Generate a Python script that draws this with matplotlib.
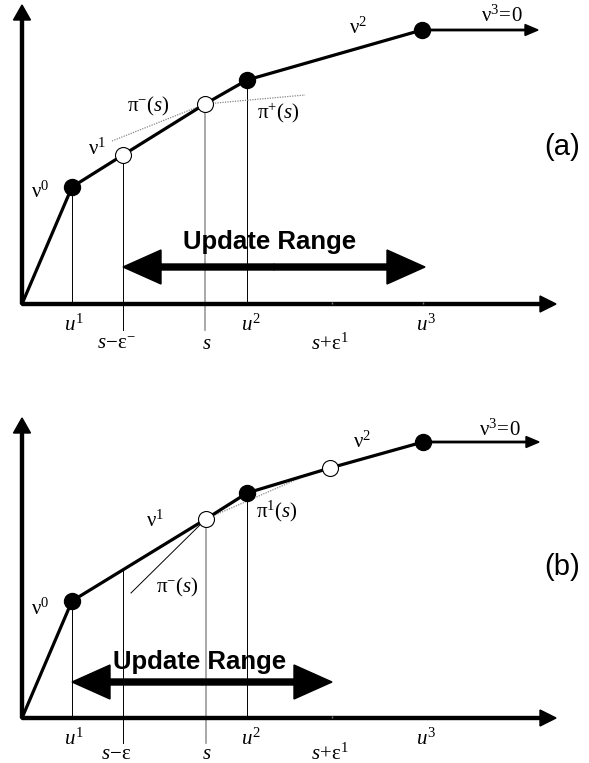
import matplotlib.pyplot as plt
import numpy as np

plt.rcParams['mathtext.fontset'] = 'custom'
plt.rcParams['mathtext.rm'] = 'Liberation Serif'
plt.rcParams['mathtext.it'] = 'Liberation Serif:italic'
plt.rcParams['mathtext.bf'] = 'Liberation Serif:bold'

# breakpoints of the piecewise linear value function (origin first)
top_x = [0, 50, 101, 183, 225, 400]
top_y = [0, 117, 149, 200, 224, 274]
top_filled = [1, 4, 5]
top_open = [2, 3]

bot_x = [0, 50, 184, 225, 308, 401]
bot_y = [0, 117, 199, 225, 250, 276]
bot_filled = [1, 3, 5]
bot_open = [2, 4]

# positions on the horizontal axis
top_ticks = {'u1': 50, 'se_minus': 101, 's': 183, 'u2': 225, 'se_plus': 310, 'u3': 401}
bot_ticks = {'u1': 50, 'se_minus': 101, 's': 184, 'u2': 225, 'se_plus': 310, 'u3': 401}

# slopes shown as tangents at s
top_pi_minus = ([90, 183], [163, 200])
top_pi_plus = ([183, 283], [200, 209])
bot_pi_minus = ([109, 184], [125, 199])
bot_pi_one = ([184, 278], [199, 240])

# update range (start, end)
top_range = (101, 403)
bot_range = (50, 310)

SERIF = 15


def axes_arrows(ax, ytop):
    ax.arrow(0, 0, 0, ytop, width=3, head_width=17, head_length=15,
             length_includes_head=True, color='black', zorder=5)
    ax.arrow(0, 0, 534, 0, width=3, head_width=16, head_length=16,
             length_includes_head=True, color='black', zorder=5)


def draw_curve(ax, x, y, filled, opened):
    ax.plot(x, y, color='black', lw=2.3, zorder=3, solid_capstyle='round')
    ax.plot([x[i] for i in filled], [y[i] for i in filled], 'o', ms=11.5,
            mfc='black', mec='black', zorder=6)
    ax.plot([x[i] for i in opened], [y[i] for i in opened], 'o', ms=11.5,
            mfc='white', mec='black', mew=0.8, zorder=6)
    # flat part with v^3 = 0
    ax.arrow(x[-1], y[-1], 116, 0, width=1.4, head_width=11, head_length=13,
             length_includes_head=True, color='black', zorder=4)


def update_range(ax, rng, yy, tx, ty):
    mid = (rng[0] + rng[1]) / 2
    for end in rng:
        ax.arrow(mid, yy, end - mid, 0, width=6, head_width=34, head_length=38,
                 length_includes_head=True, color='black', zorder=4)
    ax.text(tx, ty, 'Update Range', fontsize=18.5, fontweight='bold',
            family='Liberation Sans', ha='center', va='center', zorder=7)


def setup(ax, ylo, yhi):
    ax.set_xlim(-22, 567)
    ax.set_ylim(ylo, yhi)
    ax.axis('off')


def label(ax, x, y, s):
    ax.text(x, y, s, fontsize=SERIF, ha='center', va='center')


fig = plt.figure(figsize=(5.89, 7.63), dpi=100)
ax1 = fig.add_axes([0, 383 / 763, 1, 380 / 763])
ax2 = fig.add_axes([0, 0, 1, 383 / 763])
setup(ax1, -76, 304)
setup(ax2, -45, 338)

# ---------------- (a) ----------------
ax = ax1
axes_arrows(ax, 299)
draw_curve(ax, top_x, top_y, top_filled, top_open)
t = top_ticks
ax.plot([t['u1']] * 2, [0, top_y[1]], color='black', lw=0.7, zorder=2)
ax.plot([t['se_minus']] * 2, [-26, top_y[2]], color='black', lw=0.7, zorder=2)
ax.plot([t['s']] * 2, [-26, top_y[3]], color='#999999', lw=1.2, zorder=2)
ax.plot([t['u2']] * 2, [0, top_y[4]], color='black', lw=0.7, zorder=2)
ax.plot([t['se_plus'], t['u3']], [1, 1], '|', color='#777777', ms=2, zorder=6)
ax.plot(*top_pi_minus, color='#888888', lw=0.9, ls=(0, (1, 1)), zorder=2)
ax.plot(*top_pi_plus, color='#888888', lw=0.9, ls=(0, (1, 1)), zorder=2)
update_range(ax, top_range, 37, 248, 62)

label(ax, 18, 113, r'$\mathrm{\nu}^{0}$')
label(ax, 75, 156, r'$\mathrm{\nu}^{1}$')
label(ax, 126, 198, r'$\mathrm{\pi}^{-}(s)$')
label(ax, 256, 191, r'$\mathrm{\pi}^{+}(s)$')
label(ax, 336, 277, r'$\mathrm{\nu}^{2}$')
label(ax, 480, 289, r'$\mathrm{\nu}^{3}\!=\!0$')
ax.text(540, 157, '(a)', fontsize=21, family='Liberation Sans', ha='center', va='center')

label(ax, t['u1'] + 2, -20, r'$u^{1}$')
label(ax, t['se_minus'] - 6, -39, r'$s\!-\!\mathrm{\varepsilon}^{-}$')
label(ax, t['s'] + 2, -39, r'$s$')
label(ax, t['u2'] + 4, -20, r'$u^{2}$')
label(ax, t['se_plus'] - 2, -39, r'$s\!+\!\mathrm{\varepsilon}^{1}$')
label(ax, t['u3'] + 3, -20, r'$u^{3}$')

# ---------------- (b) ----------------
ax = ax2
axes_arrows(ax, 300)
draw_curve(ax, bot_x, bot_y, bot_filled, bot_open)
t = bot_ticks
y_se = np.interp(t['se_minus'], bot_x, bot_y)
ax.plot([t['u1']] * 2, [0, bot_y[1]], color='black', lw=0.7, zorder=2)
ax.plot([t['se_minus']] * 2, [-25, y_se], color='black', lw=0.7, zorder=2)
ax.plot([t['s']] * 2, [-25, bot_y[2]], color='#999999', lw=1.2, zorder=2)
ax.plot([t['u2']] * 2, [0, bot_y[3]], color='black', lw=0.7, zorder=2)
ax.plot([t['se_plus']], [1], '|', color='#777777', ms=2, zorder=6)
ax.plot(*bot_pi_minus, color='black', lw=0.7, zorder=2)
ax.plot(*bot_pi_one, color='#888888', lw=0.9, ls=(0, (1, 1)), zorder=2)
update_range(ax, bot_range, 36, 178, 56)

label(ax, 18, 110, r'$\mathrm{\nu}^{0}$')
label(ax, 133, 198, r'$\mathrm{\nu}^{1}$')
label(ax, 255, 207, r'$\mathrm{\pi}^{1}(s)$')
label(ax, 155, 131, r'$\mathrm{\pi}^{-}(s)$')
label(ax, 340, 277, r'$\mathrm{\nu}^{2}$')
label(ax, 478, 289, r'$\mathrm{\nu}^{3}\!=\!0$')
ax.text(540, 151, '(b)', fontsize=21, family='Liberation Sans', ha='center', va='center')

label(ax, t['u1'] + 2, -20, r'$u^{1}$')
label(ax, t['se_minus'] - 6, -35, r'$s\!-\!\mathrm{\varepsilon}$')
label(ax, t['s'] + 1, -35, r'$s$')
label(ax, t['u2'] + 4, -20, r'$u^{2}$')
label(ax, t['se_plus'] - 2, -35, r'$s\!+\!\mathrm{\varepsilon}^{1}$')
label(ax, t['u3'] + 3, -20, r'$u^{3}$')

fig.savefig('out.png', dpi=100)
